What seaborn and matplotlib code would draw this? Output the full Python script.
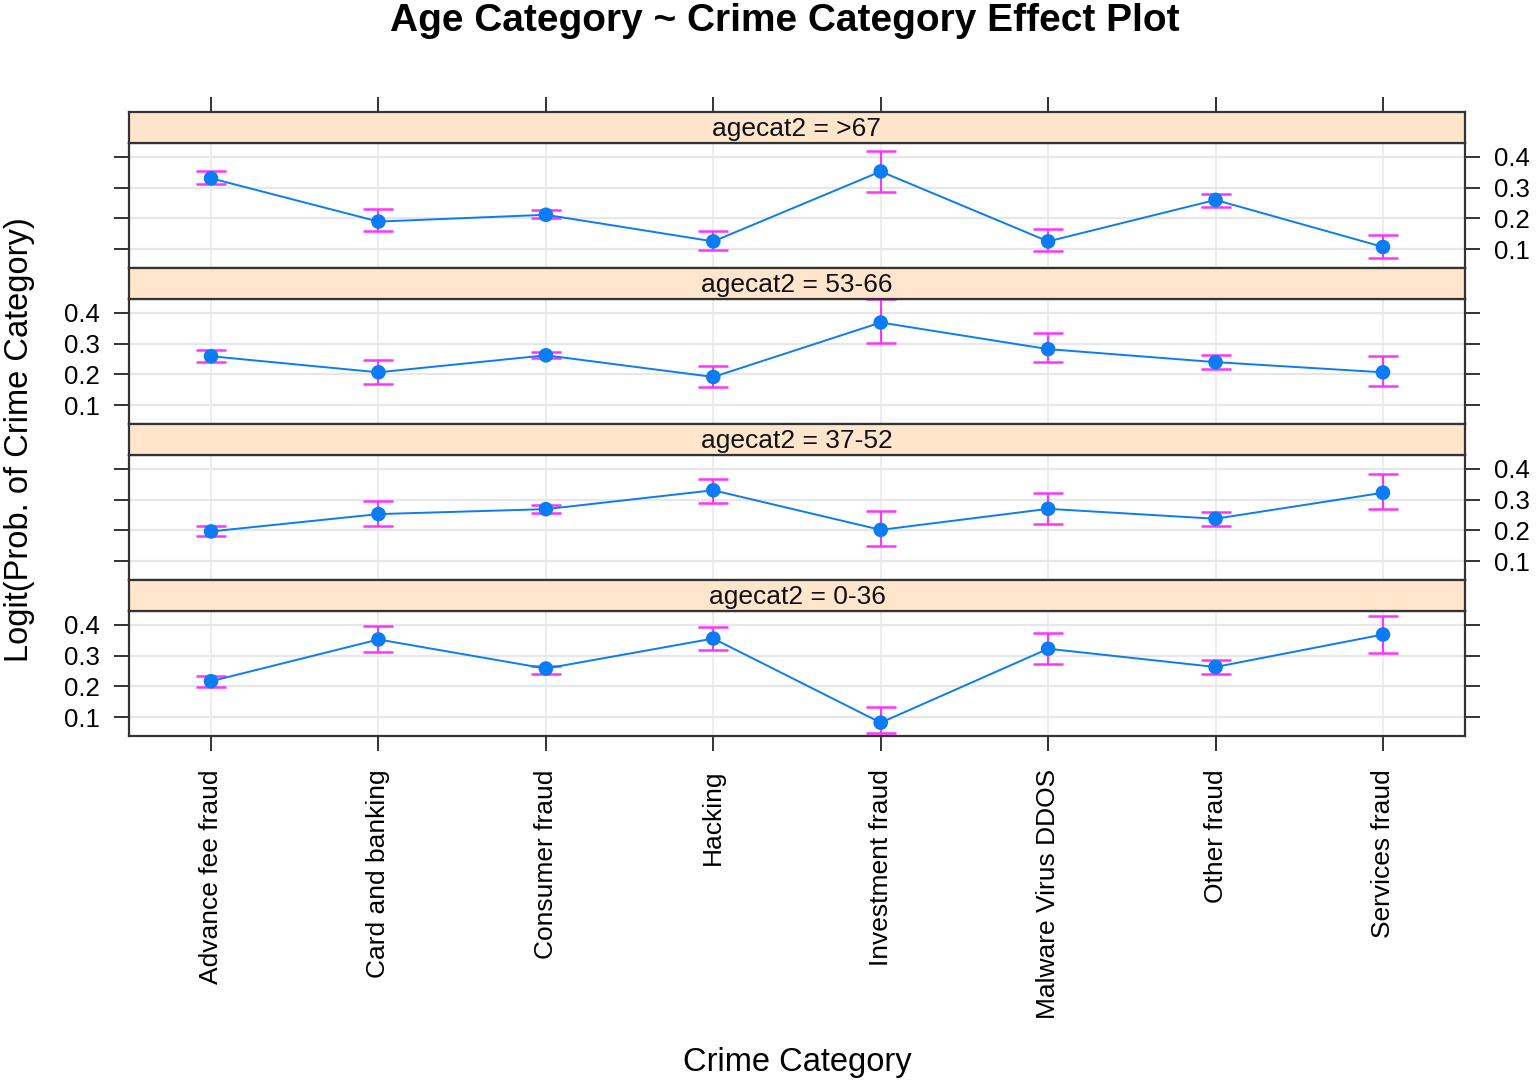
import numpy as np
import pandas as pd
import matplotlib
matplotlib.use("Agg")
import matplotlib.pyplot as plt
import seaborn as sns

# categories and panels (top panel first, as in the reference)
crime_cats = ["Advance fee fraud", "Card and banking", "Consumer fraud", "Hacking",
              "Investment fraud", "Malware Virus DDOS", "Other fraud", "Services fraud"]
age_groups = [">67", "53-66", "37-52", "0-36"]

# fitted values and confidence bounds
fit_67 = [0.330, 0.190, 0.212, 0.126, 0.352, 0.126, 0.260, 0.108]
lo_67 = [0.311, 0.159, 0.201, 0.099, 0.286, 0.094, 0.237, 0.072]
hi_67 = [0.352, 0.231, 0.226, 0.158, 0.418, 0.167, 0.280, 0.146]

fit_53 = [0.259, 0.207, 0.262, 0.192, 0.368, 0.282, 0.240, 0.207]
lo_53 = [0.240, 0.170, 0.252, 0.160, 0.303, 0.239, 0.219, 0.163]
hi_53 = [0.279, 0.246, 0.272, 0.227, 0.443, 0.333, 0.264, 0.259]

fit_37 = [0.197, 0.253, 0.269, 0.330, 0.202, 0.270, 0.238, 0.322]
lo_37 = [0.181, 0.215, 0.255, 0.290, 0.150, 0.220, 0.215, 0.269]
hi_37 = [0.213, 0.295, 0.282, 0.368, 0.262, 0.320, 0.261, 0.382]

fit_0 = [0.217, 0.352, 0.258, 0.355, 0.083, 0.322, 0.263, 0.368]
lo_0 = [0.198, 0.310, 0.241, 0.317, 0.050, 0.273, 0.241, 0.309]
hi_0 = [0.233, 0.395, 0.266, 0.392, 0.134, 0.373, 0.286, 0.427]

y_ticks = [0.1, 0.2, 0.3, 0.4]

panels = {
    ">67": (fit_67, lo_67, hi_67),
    "53-66": (fit_53, lo_53, hi_53),
    "37-52": (fit_37, lo_37, hi_37),
    "0-36": (fit_0, lo_0, hi_0),
}

sns.set_style("white")
plt.rcParams["font.family"] = ["Liberation Sans", "DejaVu Sans"]
plt.rcParams["text.color"] = "black"
plt.rcParams["xtick.labelcolor"] = "black"
plt.rcParams["ytick.labelcolor"] = "black"

W, H = 1536, 1087
fig = plt.figure(figsize=(W / 100, H / 100), dpi=100)

left = 129 / W
width = (1465 - 129) / W
strip_h = 31
plot_h = 125
step = 156
strip_color = "#FFE5CC"
frame_color = "#333333"
grid_color = "#E6E6EC"
line_color = "#0A7CF5"
err_color = "#FF33FF"

x_pos = np.arange(len(crime_cats))

for i, age in enumerate(age_groups):
    fit, lo, hi = panels[age]
    df = pd.DataFrame({"pos": x_pos, "fit": fit, "lo": lo, "hi": hi})

    strip_top = 112 + step * i
    plot_top = strip_top + strip_h
    ax = fig.add_axes([left, 1 - (plot_top + plot_h) / H, width, plot_h / H])
    sax = fig.add_axes([left, 1 - plot_top / H, width, strip_h / H])

    # strip
    sax.set_facecolor(strip_color)
    sax.set_xlim(-0.49, 7.49)
    sax.set_yticks([])
    sax.text(0.5, 0.45, f"agecat2 = {age}", transform=sax.transAxes,
             ha="center", va="center", fontsize=19, color="#111111")
    for sp in sax.spines.values():
        sp.set_color(frame_color)
        sp.set_linewidth(1.6)
    if i == 0:
        sax.set_xticks(x_pos)
        sax.tick_params(axis="x", top=True, bottom=False, labeltop=False,
                        labelbottom=False, direction="out", length=11,
                        width=1.4, color=frame_color)
    else:
        sax.set_xticks([])

    # grid
    for xp in x_pos:
        ax.axvline(xp, color=grid_color, lw=1.1, zorder=0)
    for yv in y_ticks:
        ax.axhline(yv, color=grid_color, lw=1.6, zorder=0)

    # confidence bars and fit line
    ax.errorbar(df["pos"], df["fit"],
                yerr=[df["fit"] - df["lo"], df["hi"] - df["fit"]],
                fmt="none", ecolor=err_color, elinewidth=1.5,
                capsize=11, capthick=1.8, zorder=2)
    sns.lineplot(data=df, x="pos", y="fit", ax=ax, color=line_color,
                 lw=1.4, zorder=3, legend=False)
    sns.scatterplot(data=df, x="pos", y="fit", ax=ax, color=line_color,
                    s=110, edgecolor="none", zorder=4, legend=False)

    ax.set_xlim(-0.49, 7.49)
    ax.set_ylim(0.04, 0.444)
    ax.set_xlabel("")
    ax.set_ylabel("")
    ax.set_yticks(y_ticks)
    ax.set_yticklabels(["0.1", "0.2", "0.3", "0.4"])
    for sp in ax.spines.values():
        sp.set_color(frame_color)
        sp.set_linewidth(1.6)

    labels_right = (i % 2 == 0)
    ax.tick_params(axis="y", left=True, right=True,
                   labelleft=not labels_right, labelright=labels_right,
                   direction="out", length=11, width=1.4, color=frame_color,
                   labelsize=18.5, pad=10)

    if i == len(age_groups) - 1:
        ax.set_xticks(x_pos)
        ax.set_xticklabels(crime_cats, rotation=90, fontsize=19, va="top")
        ax.tick_params(axis="x", bottom=True, direction="out", length=11,
                       width=1.4, color=frame_color, pad=13)
    else:
        ax.set_xticks([])

fig.text(785 / W, 1 - 21 / H, "Age Category ~ Crime Category Effect Plot",
         ha="center", va="center", fontsize=28, fontweight="bold")
fig.text(797 / W, 1 - 1063 / H, "Crime Category", ha="center", va="center",
         fontsize=23.5)
fig.text(20 / W, 1 - 440 / H, "Logit(Prob. of Crime Category)", ha="center",
         va="center", rotation=90, fontsize=23.5)

fig.savefig("out.png", dpi=100)
